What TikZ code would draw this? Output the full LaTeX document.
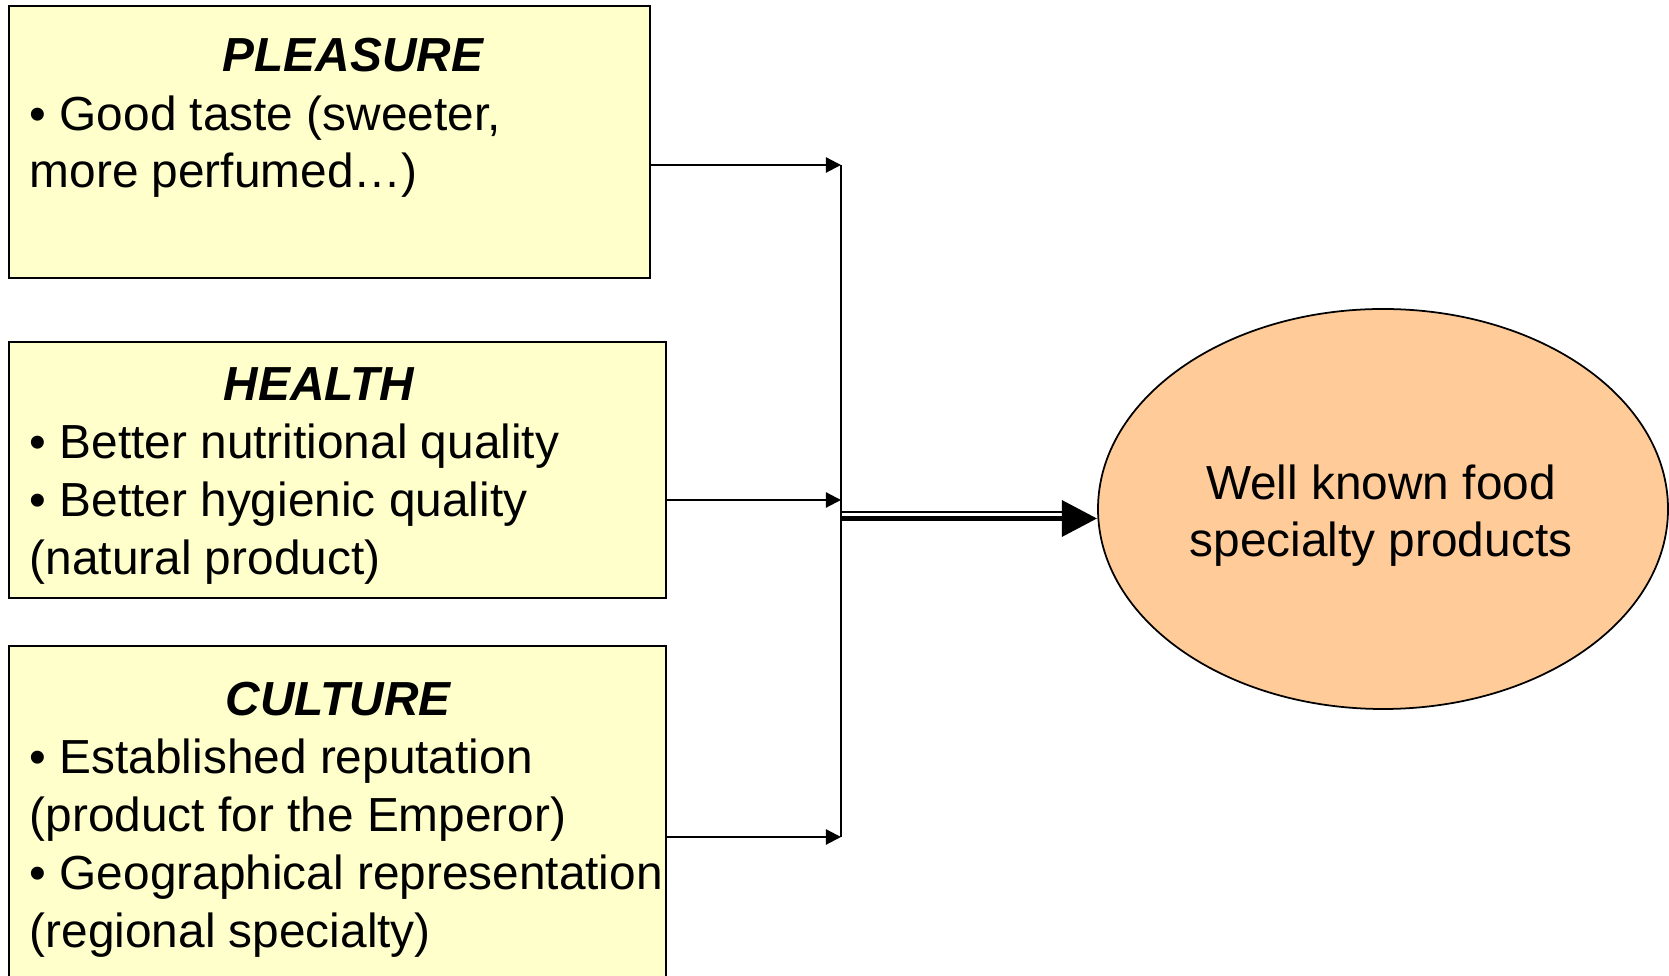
\documentclass[tikz,border=0pt]{standalone}
\usepackage{fontspec}
\setmainfont{Liberation Sans}
\usepackage{xcolor}
\usepackage{tikz}
\usetikzlibrary{shapes.geometric, positioning}
\usetikzlibrary{arrows.meta}
\definecolor{boxfill}{HTML}{FFFFCC}
\definecolor{ovalfill}{HTML}{FFCC99}

\begin{document}
\begin{tikzpicture}
% Define styles
\tikzstyle{box} = [rectangle, draw, line width=0.6pt, fill=boxfill, inner sep=0pt, anchor=north west]
\tikzstyle{head} = [font=\fontsize{13.6}{16.4}\selectfont\bfseries\itshape, anchor=base, inner sep=0pt]
\tikzstyle{item} = [font=\fontsize{13.6}{16.4}\selectfont, anchor=base west, inner sep=0pt]
\tikzstyle{link} = [line width=0.6pt, -{Triangle[length=4.3pt,width=4.3pt]}]
\useasboundingbox (0,0) rectangle (16.69,9.76);
\clip (0,0) rectangle (16.69,9.76);
% Define nodes
\node[box, minimum width=6.405cm, minimum height=2.72cm] (pleasure) at (0.08,9.71) {};
\node[head] (pleasure_h) at (3.53,9.04) {PLEASURE};
\node[item] (pleasure_1) at (0.29,8.45) {• Good taste (sweeter,};
\node[item] (pleasure_2) at (0.29,7.88) {more perfumed…)};
\node[box, minimum width=6.565cm, minimum height=2.56cm] (health) at (0.08,6.35) {};
\node[head] (health_h) at (3.19,5.75) {HEALTH};
\node[item] (health_1) at (0.29,5.17) {• Better nutritional quality};
\node[item] (health_2) at (0.29,4.59) {• Better hygienic quality};
\node[item] (health_3) at (0.29,4.01) {(natural product)};
\node[box, minimum width=6.565cm, minimum height=3.8cm] (culture) at (0.08,3.31) {};
\node[head] (culture_h) at (3.38,2.60) {CULTURE};
\node[item] (culture_1) at (0.29,2.02) {• Established reputation};
\node[item] (culture_2) at (0.29,1.44) {(product for the Emperor)};
\node[item] (culture_3) at (0.29,0.86) {• Geographical representation};
\node[item] (culture_4) at (0.29,0.29) {(regional specialty)};
\node[ellipse, draw, line width=0.5pt, fill=ovalfill, minimum width=5.70cm, minimum height=4.0cm] (food) at (13.83,4.67) {};
\node[align=center, font=\fontsize{13.6}{16.4}\selectfont] (food_txt) at ([xshift=-0.02cm, yshift=-0.065cm]food.center) {Well known food\\specialty products};
\coordinate (top) at (8.41,8.11);
\coordinate (mid) at (8.41,4.76);
\coordinate (bot) at (8.41,1.39);
\coordinate (out) at (8.41,4.575);
\coordinate (tip) at (out -| food.west);
% Connect the nodes
\draw[line width=0.6pt] (top) -- (bot);
\draw[link] (pleasure.east |- top) -- (top);
\draw[link] (health.east |- mid) -- (mid);
\draw[link] (culture.east |- bot) -- (bot);
\draw[line width=1.7pt, -{Triangle[length=10pt,width=10pt]}] (out) -- (tip);
\draw[line width=0.5pt] ([yshift=0.065cm]out) -- ([yshift=0.065cm, xshift=-10pt]tip);
\end{tikzpicture}
\end{document}
